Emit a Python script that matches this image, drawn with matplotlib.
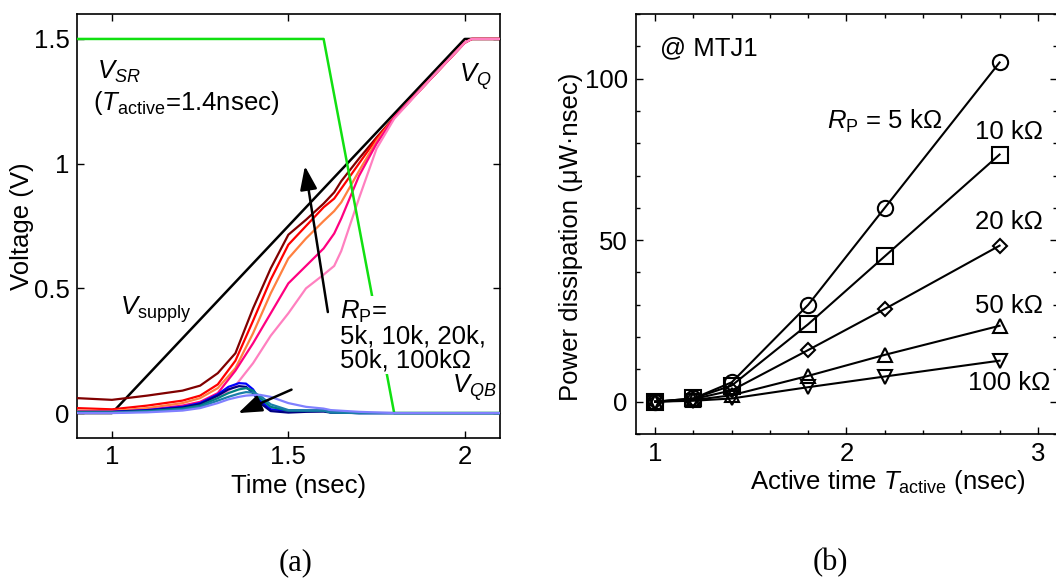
import numpy as np
import matplotlib
matplotlib.use("Agg")
import matplotlib.pyplot as plt
from matplotlib.ticker import MultipleLocator, FormatStrFormatter

plt.rcParams['font.family'] = ['Liberation Sans', 'DejaVu Sans']
plt.rcParams['font.size'] = 18.5
plt.rcParams['mathtext.fontset'] = 'custom'
plt.rcParams['mathtext.rm'] = 'Liberation Sans'
plt.rcParams['mathtext.it'] = 'Liberation Sans:italic'
plt.rcParams['mathtext.bf'] = 'Liberation Sans:bold'

# ---- (a) transient waveforms ----
t_sup = [0.9, 1.0, 2.0, 2.1]
v_sup = [0.0, 0.0, 1.5, 1.5]

t_sr = [0.9, 1.6, 1.8, 2.1]
v_sr = [1.5, 1.5, 0.0, 0.0]

t_q = [0.9, 1.0, 1.1, 1.2, 1.25, 1.3, 1.35, 1.4, 1.45, 1.5, 1.55, 1.6, 1.63,
       1.65, 1.7, 1.75, 1.8, 1.9, 2.0, 2.02, 2.1]
vq_5k = [0.06, 0.053, 0.07, 0.09, 0.11, 0.16, 0.24, 0.42, 0.58, 0.715, 0.775,
         0.84, 0.885, 0.93, 1.02, 1.105, 1.185, 1.335, 1.485, 1.5, 1.5]
vq_10k = [0.02, 0.015, 0.03, 0.05, 0.07, 0.115, 0.21, 0.37, 0.535, 0.675, 0.75,
          0.825, 0.86, 0.9, 1.0, 1.1, 1.185, 1.335, 1.485, 1.5, 1.5]
vq_20k = [0.01, 0.008, 0.02, 0.04, 0.06, 0.1, 0.18, 0.32, 0.48, 0.62, 0.70,
          0.77, 0.81, 0.845, 0.97, 1.09, 1.185, 1.335, 1.485, 1.5, 1.5]
vq_50k = [0.005, 0.005, 0.012, 0.03, 0.045, 0.08, 0.17, 0.28, 0.40, 0.52, 0.59,
          0.66, 0.72, 0.78, 0.95, 1.08, 1.185, 1.335, 1.485, 1.5, 1.5]
vq_100k = [0.003, 0.003, 0.008, 0.02, 0.035, 0.06, 0.11, 0.2, 0.31, 0.40, 0.50,
           0.555, 0.59, 0.65, 0.86, 1.06, 1.18, 1.335, 1.485, 1.5, 1.5]

t_qb = [0.9, 1.0, 1.1, 1.2, 1.25, 1.3, 1.33, 1.36, 1.38, 1.4, 1.42, 1.45, 1.5,
        1.55, 1.6, 1.62, 1.7, 1.8, 2.1]
vqb_5k = [0.005, 0.005, 0.012, 0.025, 0.04, 0.075, 0.105, 0.12, 0.118, 0.095,
          0.05, 0.015, 0.01, 0.01, 0.01, 0.003, 0.0, 0.0, 0.0]
vqb_10k = [0.004, 0.004, 0.01, 0.022, 0.036, 0.07, 0.095, 0.108, 0.105, 0.08,
           0.04, 0.008, 0.002, 0.005, 0.006, 0.002, 0.0, 0.0, 0.0]
vqb_20k = [0.003, 0.003, 0.008, 0.018, 0.03, 0.06, 0.08, 0.095, 0.1, 0.09,
           0.06, 0.025, 0.01, 0.01, 0.01, 0.003, 0.0, 0.0, 0.0]
vqb_50k = [0.002, 0.002, 0.006, 0.014, 0.025, 0.05, 0.065, 0.078, 0.084, 0.082,
           0.07, 0.035, 0.012, 0.01, 0.01, 0.003, 0.0, 0.0, 0.0]
vqb_100k = [0.0, 0.0, 0.003, 0.01, 0.02, 0.04, 0.055, 0.065, 0.07, 0.072,
            0.073, 0.065, 0.04, 0.025, 0.018, 0.012, 0.005, 0.0, 0.0]

q_colors = ['#800000', '#ff0000', '#ff8040', '#ff0080', '#ff80c0']
qb_colors = ['#0000ff', '#000080', '#008080', '#1a7fa8', '#8080ff']

# ---- (b) power dissipation ----
t_active = [1.0, 1.2, 1.4, 1.8, 2.2, 2.8]
p_5k = [0.0, 1.0, 6.0, 30.0, 60.0, 105.0]
p_10k = [0.0, 1.0, 5.0, 24.0, 45.0, 76.5]
p_20k = [0.0, 0.8, 3.5, 16.0, 28.7, 48.3]
p_50k = [0.0, 0.5, 2.0, 8.0, 14.5, 23.5]
p_100k = [0.0, 0.3, 1.0, 4.5, 7.8, 12.7]
markers = ['o', 's', 'D', '^', 'v']
msizes = [11, 11, 7.5, 10, 10]

fig = plt.figure(figsize=(10.56, 5.79), dpi=100)
ax1 = fig.add_axes([0.0726, 0.2435, 0.4009, 0.7323])
ax2 = fig.add_axes([0.6023, 0.2504, 0.3986, 0.7254])

ax1.plot(t_sup, v_sup, color='black', lw=1.8, zorder=2)
for v, c in zip([vq_5k, vq_10k, vq_20k, vq_50k, vq_100k], q_colors):
    ax1.plot(t_q, v, color=c, lw=1.6, zorder=3)
ax1.plot(t_sr, v_sr, color='#11e011', lw=1.8, zorder=4)
for v, c in zip([vqb_5k, vqb_10k, vqb_20k, vqb_50k, vqb_100k], qb_colors):
    ax1.plot(t_qb, v, color=c, lw=1.6, zorder=5)

ax1.set_xlim(0.9, 2.1)
ax1.set_ylim(-0.1, 1.6)
ax1.set_xticks([1, 1.5, 2])
ax1.set_yticks([0, 0.5, 1, 1.5])
ax1.xaxis.set_major_formatter(FormatStrFormatter('%g'))
ax1.yaxis.set_major_formatter(FormatStrFormatter('%g'))
ax1.tick_params(direction='in', length=5, width=1, top=True, right=True, pad=5)
ax1.set_xlabel('Time (nsec)')
ax1.xaxis.set_label_coords(0.523, -0.085)
ax1.set_ylabel('Voltage (V)')
ax1.yaxis.set_label_coords(-0.1, 0.5)

ax1.text(0.958, 1.369, r'$V_{SR}$', va='center', ha='left')
ax1.text(0.947, 1.245, r'($T_{\mathrm{active}}$=1.4nsec)', va='center', ha='left')
ax1.text(1.983, 1.349, r'$V_{Q}$', va='center', ha='left')
ax1.text(1.024, 0.414, r'$V_{\mathrm{supply}}$', va='center', ha='left')
ax1.text(1.963, 0.102, r'$V_{QB}$', va='center', ha='left', zorder=6)
ax1.text(1.646, 0.46, '$R_{\\mathrm{P}}$=\n5k, 10k, 20k,\n50k, 100k\u03a9',
         va='top', ha='left', linespacing=1.0, zorder=6,
         bbox=dict(facecolor='white', edgecolor='none', pad=1))
arrow_style = dict(arrowstyle='-|>,head_length=1.1,head_width=0.4',
                   mutation_scale=13, color='black', lw=1.8,
                   shrinkA=0, shrinkB=0)
ax1.annotate('', xy=(1.547, 0.99), xytext=(1.612, 0.405),
             arrowprops=arrow_style, zorder=7)
ax1.annotate('', xy=(1.358, 0.0), xytext=(1.509, 0.094),
             arrowprops=arrow_style, zorder=7)

for p, m, ms in zip([p_5k, p_10k, p_20k, p_50k, p_100k], markers, msizes):
    ax2.plot(t_active, p, color='black', lw=1.5, marker=m, ms=ms,
             mfc='none', mec='black', mew=1.5)

ax2.set_xlim(0.9, 3.1)
ax2.set_ylim(-10, 120)
ax2.set_xticks([1, 2, 3])
ax2.set_yticks([0, 50, 100])
ax2.xaxis.set_minor_locator(MultipleLocator(0.2))
ax2.yaxis.set_minor_locator(MultipleLocator(10))
ax2.tick_params(which='both', direction='in', width=1, top=True, right=True)
ax2.tick_params(which='major', length=5, pad=6)
ax2.tick_params(which='minor', length=3)
ax2.set_xlabel(r'Active time $T_{\mathrm{active}}$ (nsec)')
ax2.xaxis.set_label_coords(0.599, -0.08)
ax2.set_ylabel('Power dissipation (\u03bcW\u00b7nsec)')
ax2.yaxis.set_label_coords(-0.125, 0.47)

ax2.text(0.057, 0.919, '@ MTJ1', transform=ax2.transAxes, va='center', ha='left')
ax2.text(1.9, 86.9, r'$R_{\mathrm{P}}$ = 5 k$\Omega$', va='center', ha='left')
ax2.text(3.027, 83.6, '10 k\u03a9', va='center', ha='right')
ax2.text(3.027, 55.6, '20 k\u03a9', va='center', ha='right')
ax2.text(3.027, 29.6, '50 k\u03a9', va='center', ha='right')
ax2.text(3.065, 5.8, '100 k\u03a9', va='center', ha='right')

for ax in (ax1, ax2):
    for s in ax.spines.values():
        s.set_linewidth(1.2)

fig.text(0.280, 0.0276, '(a)', ha='center', va='center',
         family='Liberation Serif', fontsize=22)
fig.text(0.786, 0.0276, '(b)', ha='center', va='center',
         family='Liberation Serif', fontsize=22)

fig.savefig('out.png', dpi=100)
